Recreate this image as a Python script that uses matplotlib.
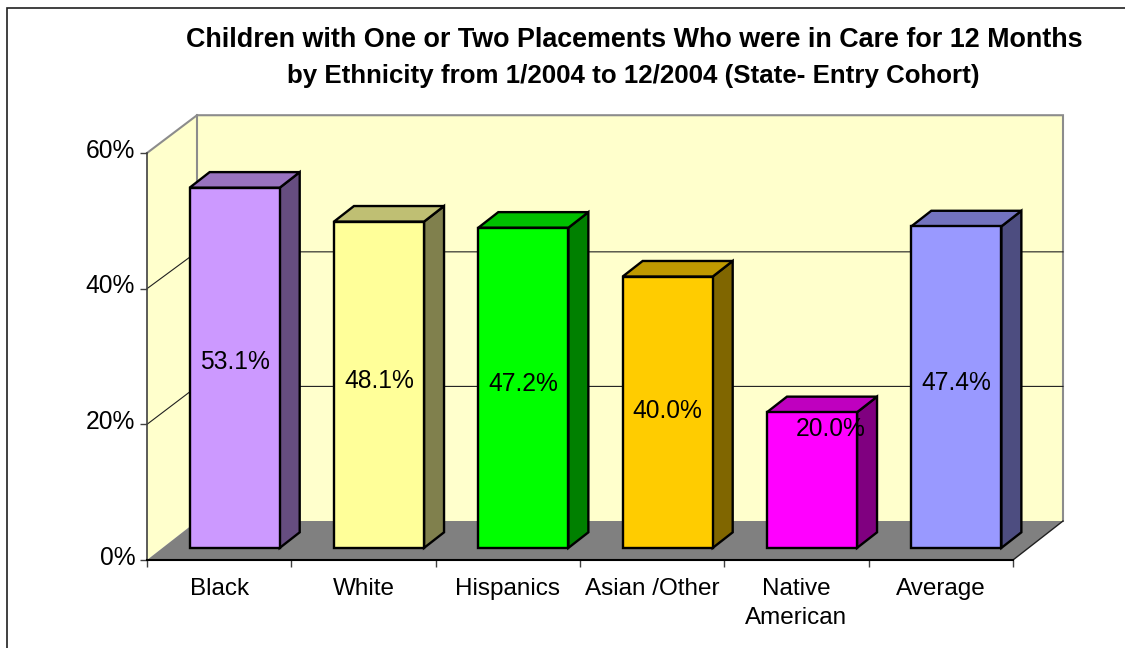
import matplotlib
matplotlib.use('Agg')
import matplotlib.pyplot as plt
from matplotlib.colors import to_rgb
from matplotlib.patches import Polygon, Rectangle

categories = ['Black', 'White', 'Hispanics', 'Asian /Other', 'Native\nAmerican', 'Average']
values = [53.1, 48.1, 47.2, 40.0, 20.0, 47.4]
yticks = [0, 20, 40, 60]
ytick_labels = ['0%', '20%', '40%', '60%']
title_1 = 'Children with One or Two Placements Who were in Care for 12 Months'
title_2 = 'by Ethnicity from 1/2004 to 12/2004 (State- Entry Cohort)'

colors = ['#CC99FF', '#FFFF99', '#00FF00', '#FFCC00', '#FF00FF', '#9999FF']

W, H = 1125, 648
plt.rcParams['font.family'] = ['Liberation Sans', 'DejaVu Sans']

fig = plt.figure(figsize=(W / 100, H / 100), dpi=100)
# front plane of the fake 3d box, in pixels
ax = fig.add_axes([147 / W, (H - 560) / H, 866 / W, 407 / H])
ax.set_xlim(0, len(categories))
ax.set_ylim(0, 60)
ax.patch.set_visible(False)

# depth of the box and of the bars, in data units
depth_x = 50 / (866 / 6)
depth_y = 39 / (407 / 60)
back_scale = 0.992
bar_width = 0.624
bar_start = 0.31
bar_depth = 0.40
edge_lw = 1.7


def face(points, color, edge='none', lw=0.0, z=1):
    ax.add_patch(Polygon(points, closed=True, facecolor=color, edgecolor=edge, linewidth=lw,
                         joinstyle='miter', clip_on=False, zorder=z))


def shade(color, k):
    return tuple(c * k for c in to_rgb(color))


n = len(categories)
top = yticks[-1]
wall = '#FFFFCC'
back_top = top * back_scale + depth_y + 0.3
# back wall, left wall, floor
face([(depth_x, depth_y), (n + depth_x, depth_y), (n + depth_x, back_top), (depth_x, back_top)], wall, z=0)
face([(0, 0), (depth_x, depth_y), (depth_x, back_top), (0, top)], wall, z=0)
face([(0, 0), (n, 0), (n + depth_x, depth_y), (depth_x, depth_y)], '#808080', z=1)

# wall outline
ax.plot([0, depth_x, n + depth_x, n + depth_x], [top, back_top, back_top, depth_y],
        color='#8C8C8C', lw=1.5, clip_on=False, zorder=1, solid_joinstyle='miter')
ax.plot([depth_x, depth_x], [depth_y, back_top], color='#8C8C8C', lw=1.5, clip_on=False, zorder=1)
ax.plot([n, n + depth_x], [0, depth_y], color='#202020', lw=1.0, clip_on=False, zorder=2)

# gridlines run across the left wall then along the back
for t in yticks[1:-1]:
    y = t * back_scale + depth_y
    ax.plot([0, depth_x, n + depth_x], [t, y, y], color='#202020', lw=0.8, clip_on=False, zorder=1)

# bars
xs = [i + 0.5 + bar_start * depth_x for i in range(n)]
floor = bar_start * depth_y
ax.bar(xs, values, width=bar_width, bottom=floor, color=colors, edgecolor='black', linewidth=edge_lw,
       zorder=4)
for x, v, c in zip(xs, values, colors):
    left, right = x - bar_width / 2, x + bar_width / 2
    ox, oy = bar_depth * depth_x, bar_depth * depth_y
    face([(right, floor), (right + ox, floor + oy), (right + ox, floor + v + oy), (right, floor + v)],
         shade(c, 0.5), 'black', edge_lw, 3)
    face([(left, floor + v), (right, floor + v), (right + ox, floor + v + oy), (left + ox, floor + v + oy)],
         shade(c, 0.75), 'black', edge_lw, 3)

# value labels sit a bit over the middle of the bar, the native one was moved by hand
for name, x, v in zip(categories, xs, values):
    lx, ly = x, v * 0.55
    if name.startswith('Native'):
        lx, ly = x + 0.13, v * 0.965
    ax.text(lx, ly, f'{v:.1f}%', ha='center', va='center', fontsize=17.7, color='black', zorder=5)

ax.set_yticks(yticks)
ax.set_yticklabels([])
# y labels sit slightly above their ticks in the original
for t, lab in zip(yticks, ytick_labels):
    ax.annotate(lab, (0, t), xycoords=('axes fraction', 'data'), xytext=(-8.5, 1.6),
                textcoords='offset points', ha='right', va='center', fontsize=17.7)
ax.set_xticks(range(n + 1))
ax.set_xticklabels([])
ax.set_xticks([i + 0.5 for i in range(n)], minor=True)
ax.set_xticklabels(categories, minor=True, fontsize=17.5, linespacing=1.42)
ax.tick_params(axis='x', which='major', length=5, width=1, color='#404040', direction='out')
ax.tick_params(axis='x', which='minor', length=0, pad=13)
ax.tick_params(axis='y', length=5, width=1, color='#404040')

for s in ['top', 'right']:
    ax.spines[s].set_visible(False)
ax.spines['left'].set_color('#404040')
ax.spines['left'].set_linewidth(1.2)
ax.spines['bottom'].set_color('black')
ax.spines['bottom'].set_linewidth(1.5)

# two separate lines, the second one runs narrower in the original
fig.text(634 / W, (H - 40) / H, title_1, ha='center', va='center', fontsize=19.35, fontweight='bold')
fig.text(633 / W, (H - 76) / H, title_2, ha='center', va='center', fontsize=18.6, fontweight='bold')

# chart frame, right and bottom sides are cut off by the image
fig.add_artist(Rectangle((7 / W, -0.1), 1.2, (H - 8) / H + 0.1, transform=fig.transFigure,
                         fill=False, edgecolor='#202020', linewidth=1.2))

fig.savefig('out.png', dpi=100)
